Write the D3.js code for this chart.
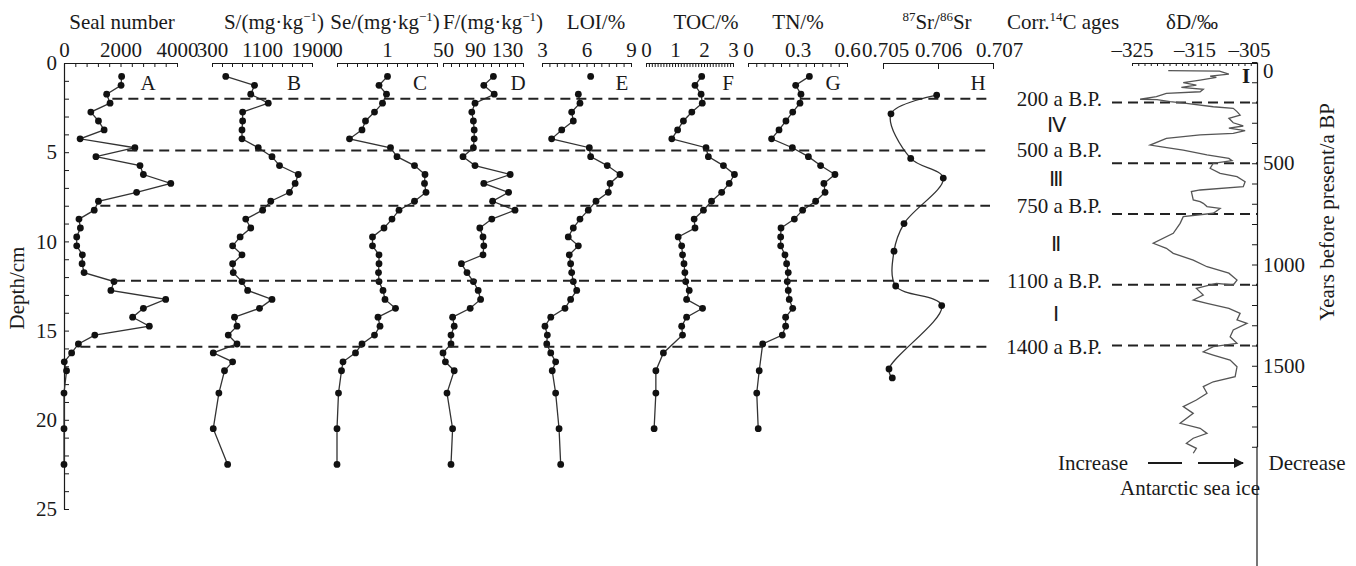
<!DOCTYPE html>
<html><head><meta charset="utf-8">
<script src="https://cdn.jsdelivr.net/npm/d3@7"></script>
<style>
body{margin:0;background:#fff}
svg{display:block}
text{font-family:"Liberation Serif","Times New Roman",serif;fill:#1a1a1a;font-size:21px}
</style></head><body>
<svg id="chart" width="1356" height="566"></svg>
<script>
// Sample depths (cm) shared by the core profiles A–G
const depths = [0.75,1.25,1.75,2.25,2.75,3.25,3.75,4.25,4.75,5.25,5.75,6.25,6.75,7.25,7.75,8.25,8.75,9.25,9.75,10.25,10.75,11.25,11.75,12.25,12.75,13.25,13.75,14.25,14.75,15.25,15.75,16.25,16.75,17.25,18.5,20.5,22.5];
// null = no measurement at that depth
const sealNumber = [2040,2020,1510,1630,950,1220,1420,570,2510,1130,2690,2810,3780,2570,1220,1070,530,580,450,450,650,640,710,1770,1660,3600,2810,2430,3020,1090,510,270,10,90,0,0,0];
const sulfur = [520,980,920,1200,790,790,780,780,1040,1260,1380,1680,1630,1540,1240,1110,840,920,750,630,780,630,640,780,870,1260,1060,660,700,560,700,320,630,500,410,320,550];
const selenium = [1.01,0.84,0.99,0.91,0.75,0.57,0.50,0.25,1.07,1.20,1.55,1.76,1.75,1.78,1.55,1.24,1.10,0.94,0.71,0.71,0.84,0.84,0.83,0.84,0.92,0.96,1.17,0.82,0.86,0.75,0.50,0.37,0.12,0.09,0.03,0.0,0.0];
const fluorine = [113,101,114,90,86,88,89,89,88,75,90,134,101,132,112,140,111,96,100,101,100,73,80,88,94,97,84,62,64,60,60,50,53,64,55,62,60];
const loi = [6.28,null,5.45,5.56,5.0,5.11,4.33,3.65,6.19,6.28,7.4,8.26,7.59,7.47,6.64,6.12,5.56,5.11,4.77,5.45,4.84,4.93,5.0,5.11,5.34,4.93,4.55,3.59,3.2,3.36,3.32,3.59,3.92,3.69,3.92,4.15,4.26];
const toc = [1.92,1.69,1.9,1.94,1.58,1.29,1.09,0.89,2.07,2.15,2.67,3.05,2.87,2.61,2.26,1.98,1.66,1.69,1.11,1.23,1.26,1.31,1.34,1.37,1.49,1.4,1.95,1.4,1.23,1.26,null,0.6,null,0.34,0.34,0.28,null];
const tn = [0.372,0.289,0.321,0.315,0.271,0.23,0.188,0.143,0.269,0.366,0.44,0.527,0.46,0.467,0.41,0.331,0.281,0.2,0.198,0.198,0.224,0.234,0.244,0.238,0.244,0.25,0.271,0.228,0.228,0.208,0.089,null,null,0.068,0.053,0.062,null];
// 87Sr/86Sr measured on fewer samples
const srDepths = [1.8,2.85,5.35,6.45,9.0,10.55,12.5,13.6,17.15,17.65];
const srRatio = [0.705976,0.705145,0.705504,0.706096,0.705382,0.705200,0.705231,0.706067,0.705109,0.705169];
// Ice-core deuterium record (years BP, permil)
const ddYears = [43,45,60,70,76,89,102,114,125,135,147,155,171,184,186,196,204,221,229,245,262,278,300,316,327,339,352,360,377,410,418,435,459,476,487,500,525,550,566,591,616,632,640,681,690,698,714,723,747,764,797,846,895,920,945,978,1011,1043,1077,1101,1093,1118,1151,1175,1192,1217,1241,1274,1291,1323,1357,1389,1406,1431,1447,1472,1505,1554,1579,1603,1636,1669,1702,1735,1784,1809,1834,1858,1883,1908,1932];
const ddValues = [-319.2,-311,-309.5,-312.5,-311.5,-314.1,-316.8,-314.7,-317.1,-313.6,-314.1,-319.5,-321.1,-323.7,-321,-318.9,-316.3,-312,-308.8,-308.2,-307.7,-309.5,-308.8,-307.2,-309.5,-306.9,-308.8,-314.1,-319.5,-322.1,-320.5,-316.8,-313,-309.5,-309,-312,-312.5,-310.9,-308.2,-306.9,-307.2,-314.1,-315.5,-315.2,-314.1,-313.6,-313,-310.9,-312,-316.8,-317.3,-318.4,-321.6,-319.5,-318.4,-315.2,-313,-309.5,-308.2,-308.8,-311.5,-314.7,-313.6,-315.2,-313,-309.5,-307.7,-308.2,-306.6,-308.8,-309.3,-308.2,-312,-313.6,-312,-309.3,-308.2,-308.5,-312,-313.6,-313,-314.7,-316.8,-315.2,-317.3,-314.1,-313,-315.2,-316.3,-314.7,-315.2];
// Zone boundaries and their ages
const boundaryDepths = [2, 4.9, 8, 12.2, 15.9];
const boundaryAges = [200, 500, 750, 1100, 1400];
const ageLabels = ["200 a B.P.","500 a B.P.","750 a B.P.","1100 a B.P.","1400 a B.P."];
const zoneLabels = ["\u2163","\u2162","\u2161","\u2160"];
const depthTicks = d3.range(0, 26);
const yearTicks = d3.range(0, 2000, 100);

const svg = d3.select('#chart');
const ink = '#1a1a1a';
const depthY = d3.scaleLinear().domain([0, 25]).range([63, 509]);
const yearY = d3.scaleLinear().domain([0, 1900]).range([62, 62 + 1900 * 0.2025]);

function axisStyle(g){
  g.selectAll('path.domain').attr('stroke', ink).attr('stroke-width', 1.2);
  g.selectAll('.tick line').attr('stroke', ink).attr('stroke-width', 1);
  g.selectAll('.tick text').attr('font-size', 21).attr('font-family', '"Liberation Serif",serif').attr('fill', ink);
}

// Depth axis
const gDepth = svg.append('g').attr('transform', 'translate(64,0)')
  .call(d3.axisLeft(depthY).tickValues(depthTicks).tickSizeInner(-5).tickSizeOuter(0).tickPadding(7)
    .tickFormat(d => d % 5 === 0 ? d : ''));
axisStyle(gDepth);
svg.append('text').attr('transform', 'translate(24,288) rotate(-90)').attr('text-anchor', 'middle').text('Depth/cm');

const panels = [
  {id:'A', title:[['Seal number']], titleX:122, values:sealNumber, domain:[0,4000], range:[64,177], step:400, labels:[0,2000,4000], letterX:148},
  {id:'B', title:[['S/(mg\u00b7kg'],['\u22121',1],[')']], titleX:274, values:sulfur, domain:[300,1900], range:[212,312], step:160, labels:[300,1100,1900], letterX:294},
  {id:'C', title:[['Se/(mg\u00b7kg'],['\u22121',1],[')']], titleX:385, values:selenium, domain:[0,2], range:[337,437], step:0.2, labels:[0,1], letterX:420},
  {id:'D', title:[['F/(mg\u00b7kg'],['\u22121',1],[')']], titleX:493, values:fluorine, domain:[50,150], range:[443,523], step:10, labels:[50,90,130], letterX:518},
  {id:'E', title:[['LOI/%']], titleX:596, values:loi, domain:[3,9], range:[542,631], step:0.5, labels:[3,6,9], letterX:622, detachedTop:true},
  {id:'F', title:[['TOC/%']], titleX:706, values:toc, domain:[0,3], range:[646,733], step:0.1, labels:[0,1,2,3], letterX:728},
  {id:'G', title:[['TN/%']], titleX:798, values:tn, domain:[0,0.6], range:[748,847], step:0.05, labels:[0,0.3,0.6], letterX:833}
];

function drawTitle(parts, x){
  const t = svg.append('text').attr('x', x).attr('y', 29).attr('text-anchor', 'middle');
  parts.forEach((p, i) => {
    const sp = t.append('tspan').text(p[0]);
    if (p[1]) sp.attr('font-size', 13).attr('dy', -8);
    else if (i > 0 && parts[i-1][1]) sp.attr('dy', 8);
  });
}
const near = (a, b) => Math.abs(a - b) < 1e-9;

panels.forEach(p => {
  const x = d3.scaleLinear().domain(p.domain).range(p.range);
  const n = Math.round((p.domain[1] - p.domain[0]) / p.step);
  const tv = d3.range(n + 1).map(i => +(p.domain[0] + i * p.step).toFixed(6));
  const g = svg.append('g').attr('transform', 'translate(0,63)')
    .call(d3.axisTop(x).tickValues(tv).tickSizeInner(-4).tickSizeOuter(0).tickPadding(6)
      .tickFormat(d => p.labels.some(l => near(l, d)) ? d : ''));
  axisStyle(g);
  drawTitle(p.title, p.titleX);
  svg.append('text').attr('x', p.letterX).attr('y', 90).attr('text-anchor', 'middle').text(p.id);

  const pts = depths.map((d, i) => ({d, v: p.values[i]})).filter(o => o.v !== null);
  const linePts = p.detachedTop ? pts.slice(1) : pts;
  const line = d3.line().x(o => x(o.v)).y(o => depthY(o.d));
  svg.append('path').attr('d', line(linePts)).attr('fill', 'none').attr('stroke', '#333').attr('stroke-width', 1.3);
  svg.append('g').selectAll('circle').data(pts).join('circle')
    .attr('cx', o => x(o.v)).attr('cy', o => depthY(o.d)).attr('r', 3.4).attr('fill', '#111');
});

// 87Sr/86Sr panel
{
  const x = d3.scaleLinear().domain([0.705, 0.707]).range([883, 993]);
  const g = svg.append('g').attr('transform', 'translate(0,63)')
    .call(d3.axisTop(x).tickValues([0.705, 0.706, 0.707]).tickSizeInner(-6).tickSizeOuter(0).tickPadding(6)
      .tickFormat(d3.format('.3f')));
  axisStyle(g);
  g.selectAll('.tick text').attr('dx', (d, i) => i === 0 ? 2 : (i === 2 ? 6 : 0));
  const t = svg.append('text').attr('x', 937).attr('y', 29).attr('text-anchor', 'middle');
  t.append('tspan').attr('font-size', 13).attr('dy', -8).text('87');
  t.append('tspan').attr('dy', 8).text('Sr/');
  t.append('tspan').attr('font-size', 13).attr('dy', -8).text('86');
  t.append('tspan').attr('dy', 8).text('Sr');
  svg.append('text').attr('x', 978).attr('y', 90).attr('text-anchor', 'middle').text('H');
  const pts = srDepths.map((d, i) => ({d, v: srRatio[i]}));
  svg.append('path').attr('d', d3.line().curve(d3.curveCatmullRom.alpha(0.5)).x(o => x(o.v)).y(o => depthY(o.d))(pts))
    .attr('fill', 'none').attr('stroke', '#333').attr('stroke-width', 1.3);
  svg.append('g').selectAll('circle').data(pts).join('circle')
    .attr('cx', o => x(o.v)).attr('cy', o => depthY(o.d)).attr('r', 3.4).attr('fill', '#111');
}

// Zone boundaries across the core profiles
const sealAt = d3.scaleLinear().domain(depths).range(sealNumber);
const xSeal = d3.scaleLinear().domain([0, 4000]).range([64, 177]);
svg.append('g').selectAll('line').data(boundaryDepths).join('line')
  .attr('x1', d => xSeal(sealAt(d)) + 4).attr('x2', 990)
  .attr('y1', d => depthY(d)).attr('y2', d => depthY(d))
  .attr('stroke', '#222').attr('stroke-width', 2).attr('stroke-dasharray', '10,6');

// Age labels and zone numerals
svg.append('g').selectAll('text').data(ageLabels).join('text')
  .attr('x', 1102).attr('y', (d, i) => depthY(boundaryDepths[i])).attr('dy', '0.33em')
  .attr('text-anchor', 'end').text(d => d);
svg.append('g').selectAll('text').data(zoneLabels).join('text')
  .attr('x', 1056).attr('y', (d, i) => depthY((boundaryDepths[i] + boundaryDepths[i+1]) / 2)).attr('dy', '0.36em')
  .attr('text-anchor', 'middle').attr('font-family', '"DejaVu Serif",serif').attr('font-size', 19).text(d => d);
svg.append('text').attr('x', 1063).attr('y', 29).attr('text-anchor', 'middle')
  .call(t => { t.append('tspan').text('Corr.'); t.append('tspan').attr('font-size', 13).attr('dy', -8).text('14');
               t.append('tspan').attr('dy', 8).text('C ages'); });

// Deuterium panel
{
  const x = d3.scaleLinear().domain([-325, -305]).range([1132, 1257]);
  const g = svg.append('g').attr('transform', 'translate(0,63)')
    .call(d3.axisTop(x).tickValues(d3.range(-325, -304, 1)).tickSizeInner(-3).tickSizeOuter(0).tickPadding(6)
      .tickFormat(d => (d + 325) % 10 === 0 ? '\u2013' + Math.abs(d) : ''));
  axisStyle(g);
  g.selectAll('.tick text').attr('dx', d => d === -305 ? -8 : 0);
  svg.append('text').attr('x', 1192).attr('y', 29).attr('text-anchor', 'middle').text('\u03b4D/\u2030');

  const gy = svg.append('g').attr('transform', 'translate(1257,0)')
    .call(d3.axisRight(yearY).tickValues(yearTicks).tickSizeInner(-5).tickSizeOuter(0).tickPadding(6)
      .tickFormat(d => d % 500 === 0 ? d : ''));
  axisStyle(gy);
  gy.selectAll('.tick text').attr('dy', d => d === 0 ? '0.75em' : '0.32em');
  svg.append('line').attr('x1', 1257).attr('x2', 1257).attr('y1', yearY(1900)).attr('y2', 566)
    .attr('stroke', ink).attr('stroke-width', 1.2);
  svg.append('text').attr('transform', 'translate(1334,212) rotate(-90)').attr('text-anchor', 'middle')
    .text('Years before present/a BP');

  svg.append('g').selectAll('line').data(boundaryAges).join('line')
    .attr('x1', 1112).attr('x2', 1257).attr('y1', d => yearY(d)).attr('y2', d => yearY(d))
    .attr('stroke', '#222').attr('stroke-width', 2).attr('stroke-dasharray', '10,6');

  const pts = ddYears.map((yr, i) => ({yr, v: ddValues[i]}));
  svg.append('path').attr('d', d3.line().x(o => x(o.v)).y(o => yearY(o.yr))(pts))
    .attr('fill', 'none').attr('stroke', '#555').attr('stroke-width', 1.3);
  svg.append('text').attr('x', 1246).attr('y', 83).attr('text-anchor', 'middle')
    .attr('font-weight', 'bold').attr('font-size', 17).text('I');

  // Sea-ice direction
  svg.append('defs').append('marker').attr('id', 'arrow').attr('viewBox', '0 0 10 10')
    .attr('refX', 9).attr('refY', 5).attr('markerWidth', 7).attr('markerHeight', 5).attr('orient', 'auto')
    .append('path').attr('d', 'M0,0L10,5L0,10Z').attr('fill', ink);
  svg.append('line').attr('x1', 1148).attr('x2', 1182).attr('y1', 463).attr('y2', 463).attr('stroke', ink).attr('stroke-width', 2);
  svg.append('line').attr('x1', 1198).attr('x2', 1243).attr('y1', 463).attr('y2', 463).attr('stroke', ink).attr('stroke-width', 2)
    .attr('marker-end', 'url(#arrow)');
  svg.append('text').attr('x', 1093).attr('y', 470).attr('text-anchor', 'middle').text('Increase');
  svg.append('text').attr('x', 1307).attr('y', 470).attr('text-anchor', 'middle').text('Decrease');
  svg.append('text').attr('x', 1190).attr('y', 495).attr('text-anchor', 'middle').text('Antarctic sea ice');
}
</script>
</body></html>
